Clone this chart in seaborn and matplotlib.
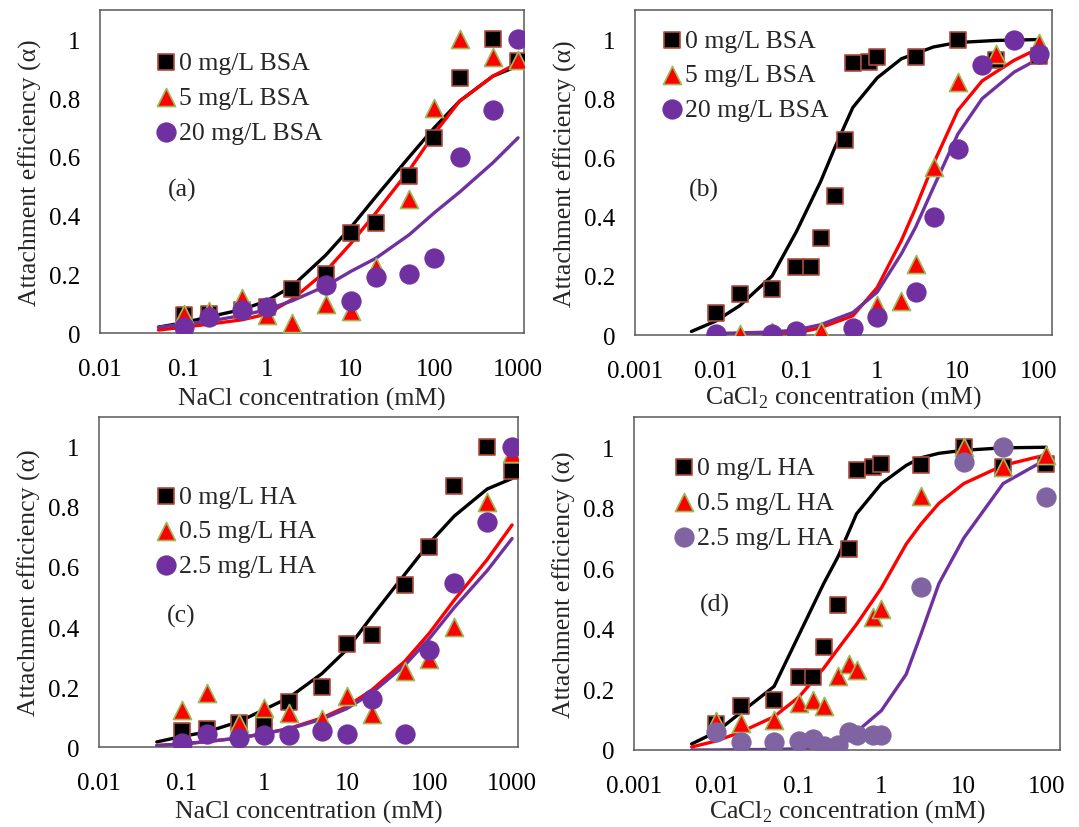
import numpy as np
import pandas as pd
import matplotlib
matplotlib.use("Agg")
import matplotlib.pyplot as plt
import seaborn as sns

# --- data ---
# panels (a) and (c): NaCl (mM)
nacl_x = [0.1, 0.2, 0.5, 1, 2, 5, 10, 20, 50, 100, 200, 500, 1000]
a_bsa0 = [0.06, 0.065, 0.08, 0.09, 0.15, 0.20, 0.34, 0.375, 0.535, 0.665, 0.87, 1.0, 0.925]
a_bsa5 = [0.065, 0.075, 0.12, 0.06, 0.035, 0.10, 0.075, 0.225, 0.455, 0.765, 1.0, 0.94, 0.93]
a_bsa20_x = [0.1, 0.2, 0.5, 1, 5, 10, 20, 50, 100, 200, 500, 1000]
a_bsa20 = [0.02, 0.055, 0.08, 0.09, 0.165, 0.11, 0.19, 0.20, 0.255, 0.60, 0.76, 1.0]

fit_nacl_x = [0.05, 0.1, 0.2, 0.5, 1, 2, 5, 10, 20, 50, 100, 200, 500, 1000]
a_fit0 = [0.02, 0.035, 0.055, 0.08, 0.11, 0.16, 0.265, 0.36, 0.465, 0.60, 0.70, 0.79, 0.875, 0.91]
a_fit5 = [0.01, 0.02, 0.03, 0.045, 0.065, 0.115, 0.21, 0.305, 0.41, 0.555, 0.68, 0.79, 0.875, 0.92]
a_fit20 = [0.02, 0.03, 0.04, 0.06, 0.08, 0.11, 0.16, 0.21, 0.255, 0.335, 0.41, 0.48, 0.58, 0.665]

c_ha0 = [0.055, 0.06, 0.08, 0.08, 0.15, 0.20, 0.345, 0.375, 0.54, 0.665, 0.87, 1.0, 0.92]
c_ha05 = [0.125, 0.18, 0.08, 0.13, 0.115, 0.095, 0.17, 0.11, 0.255, 0.295, 0.40, 0.815, 0.98]
c_ha25 = [0.015, 0.045, 0.03, 0.04, 0.04, 0.055, 0.045, 0.16, 0.045, 0.325, 0.545, 0.75, 1.0]
c_fit0 = [0.017, 0.035, 0.05, 0.085, 0.125, 0.165, 0.245, 0.325, 0.435, 0.575, 0.68, 0.77, 0.86, 0.895]
c_fit05 = [0.005, 0.01, 0.018, 0.03, 0.045, 0.062, 0.097, 0.135, 0.19, 0.285, 0.38, 0.49, 0.625, 0.74]
c_fit25 = [0.005, 0.01, 0.018, 0.03, 0.045, 0.06, 0.093, 0.128, 0.18, 0.272, 0.362, 0.465, 0.588, 0.695]

# panels (b) and (d): CaCl2 (mM)
cacl_x = [0.01, 0.02, 0.05, 0.1, 0.15, 0.2, 0.3, 0.4, 0.5, 0.8, 1, 3, 10, 30, 100]
b_bsa0 = [0.075, 0.14, 0.155, 0.23, 0.23, 0.33, 0.47, 0.66, 0.92, 0.925, 0.94, 0.94, 1.0, 0.93, 0.945]
b_bsa5_x = [0.01, 0.02, 0.05, 0.1, 0.2, 0.5, 1, 2, 3, 5, 10, 30, 100]
b_bsa5 = [0.0, 0.005, 0.01, 0.005, 0.015, 0.0, 0.10, 0.115, 0.24, 0.57, 0.855, 0.95, 0.99]
b_bsa20_x = [0.01, 0.05, 0.1, 0.5, 1, 3, 5, 10, 20, 50, 100]
b_bsa20 = [0.005, 0.005, 0.015, 0.025, 0.06, 0.145, 0.40, 0.63, 0.915, 1.0, 0.95]

b_fit0_x = [0.005, 0.01, 0.02, 0.05, 0.1, 0.2, 0.3, 0.5, 1, 2, 5, 10, 30, 100]
b_fit0 = [0.012, 0.047, 0.10, 0.20, 0.35, 0.52, 0.635, 0.77, 0.87, 0.935, 0.975, 0.99, 0.997, 1.0]
b_fit_x = [0.01, 0.05, 0.1, 0.2, 0.5, 1, 2, 3, 5, 10, 20, 50, 100]
b_fit5 = [0.0, 0.002, 0.006, 0.025, 0.065, 0.16, 0.32, 0.43, 0.58, 0.76, 0.86, 0.93, 0.97]
b_fit20 = [0.005, 0.01, 0.017, 0.035, 0.076, 0.145, 0.275, 0.365, 0.50, 0.68, 0.80, 0.89, 0.935]

d_ha0 = [0.085, 0.145, 0.165, 0.24, 0.24, 0.34, 0.48, 0.665, 0.925, 0.935, 0.945, 0.94, 1.0, 0.935, 0.945]
d_ha05 = [0.095, 0.09, 0.10, 0.155, 0.165, 0.145, 0.245, 0.285, 0.265, 0.44, 0.465, 0.84, 1.0, 0.935, 0.975]
d_ha25 = [0.06, 0.025, 0.025, 0.03, 0.035, 0.012, 0.018, 0.06, 0.05, 0.05, 0.05, 0.54, 0.95, 1.0, 0.835]
d_fit_x = [0.005, 0.01, 0.02, 0.05, 0.1, 0.2, 0.3, 0.5, 1, 2, 3, 5, 10, 30, 100]
d_fit0 = [0.02, 0.06, 0.125, 0.21, 0.38, 0.55, 0.64, 0.78, 0.88, 0.94, 0.965, 0.98, 0.99, 0.998, 1.0]
d_fit05 = [0.01, 0.03, 0.06, 0.11, 0.175, 0.27, 0.335, 0.415, 0.535, 0.68, 0.745, 0.815, 0.88, 0.94, 0.975]
d_fit25 = [0.0, 0.0, 0.001, 0.002, 0.004, 0.01, 0.02, 0.06, 0.13, 0.25, 0.38, 0.55, 0.70, 0.88, 0.96]

bsa_labels = ["0 mg/L BSA", "5 mg/L BSA", "20 mg/L BSA"]
ha_labels = ["0 mg/L HA", "0.5 mg/L HA", "2.5 mg/L HA"]
nacl_ticks = [0.01, 0.1, 1, 10, 100, 1000]
nacl_ticklabels = ["0.01", "0.1", "1", "10", "100", "1000"]
cacl_ticks = [0.001, 0.01, 0.1, 1, 10, 100]
cacl_ticklabels = ["0.001", "0.01", "0.1", "1", "10", "100"]
y_ticks = [0, 0.2, 0.4, 0.6, 0.8, 1]
y_ticklabels = ["0", "0.2", "0.4", "0.6", "0.8", "1"]

# --- style ---
sns.set_style("white")
plt.rcParams["font.family"] = ["Liberation Serif", "DejaVu Serif"]
plt.rcParams["mathtext.fontset"] = "custom"
plt.rcParams["mathtext.rm"] = "Liberation Serif"

FRAME = "#595959"
BLACK, RED, PURPLE = "#000000", "#ff0000", "#7030a0"
SQ_EDGE, TRI_EDGE = "#b04a3c", "#9bbb59"

fig = plt.figure(figsize=(10.79, 8.28), dpi=100)
pos = {
    "a": [0.0927, 0.5966, 0.3930, 0.3900],
    "b": [0.5885, 0.5942, 0.3865, 0.3925],
    "c": [0.0918, 0.0966, 0.3883, 0.3986],
    "d": [0.5876, 0.0930, 0.3948, 0.4022],
}


def draw_panel(ax, fits, pts, labels, circ_color, xlim, ticks, ticklabels,
               xlabel, xlabelpad, tag, tag_xy, leg_xy):
    for fx, fy, col in fits:
        sns.lineplot(x=fx, y=fy, color=col, lw=2.4, ax=ax, estimator=None,
                     sort=False, zorder=2)
    (x0, y0), (x1, y1), (x2, y2) = pts
    sns.scatterplot(x=x0, y=y0, marker="s", s=135, color=BLACK,
                    edgecolor=SQ_EDGE, linewidth=1.2, ax=ax, label=labels[0], zorder=3)
    sns.scatterplot(x=x1, y=y1, marker="^", s=170, color=RED,
                    edgecolor=TRI_EDGE, linewidth=1.2, ax=ax, label=labels[1], zorder=4)
    sns.scatterplot(x=x2, y=y2, marker="o", s=190, color=circ_color,
                    edgecolor=circ_color, linewidth=0.8, ax=ax, label=labels[2], zorder=5)
    ax.set_xscale("log")
    ax.set_xlim(*xlim)
    ax.set_ylim(0, 1.1)
    ax.set_xticks(ticks)
    ax.set_xticklabels(ticklabels)
    ax.minorticks_off()
    ax.set_yticks(y_ticks)
    ax.set_yticklabels(y_ticklabels)
    ax.tick_params(axis="both", direction="in", length=5.5, width=1, color=FRAME,
                   labelsize=18, labelcolor="black")
    ax.tick_params(axis="x", pad=18)
    ax.tick_params(axis="y", pad=14)
    for sp in ax.spines.values():
        sp.set_visible(True)
        sp.set_color(FRAME)
        sp.set_linewidth(1.1)
    ax.set_xlabel(xlabel, fontsize=18.5, labelpad=xlabelpad)
    ax.set_ylabel("Attachment efficiency (\u03b1)", fontsize=18.5, labelpad=5)
    ax.text(tag_xy[0], tag_xy[1], tag, transform=ax.transAxes, fontsize=18.5,
            ha="center", va="center")
    ax.legend(loc="upper left", bbox_to_anchor=leg_xy, frameon=False, fontsize=18.5,
              handlelength=0.8, handletextpad=0.1, borderpad=0, borderaxespad=0,
              labelspacing=0.46, scatterpoints=1)


cacl_label = r"CaCl$_\mathrm{2}$ concentration (mM)"

ax_a = fig.add_axes(pos["a"])
draw_panel(ax_a,
           [(fit_nacl_x, a_fit0, BLACK), (fit_nacl_x, a_fit5, RED), (fit_nacl_x, a_fit20, PURPLE)],
           [(nacl_x, a_bsa0), (nacl_x, a_bsa5), (a_bsa20_x, a_bsa20)],
           bsa_labels, PURPLE, (0.01, 1180), nacl_ticks, nacl_ticklabels,
           "NaCl concentration (mM)", 5, "(a)", (0.193, 0.446), (0.131, 0.873))

ax_b = fig.add_axes(pos["b"])
draw_panel(ax_b,
           [(b_fit0_x, b_fit0, BLACK), (b_fit_x, b_fit5, RED), (b_fit_x, b_fit20, PURPLE)],
           [(cacl_x, b_bsa0), (b_bsa5_x, b_bsa5), (b_bsa20_x, b_bsa20)],
           bsa_labels, PURPLE, (0.001, 147), cacl_ticks, cacl_ticklabels,
           cacl_label, 1, "(b)", (0.164, 0.449), (0.065, 0.943))

ax_c = fig.add_axes(pos["c"])
draw_panel(ax_c,
           [(fit_nacl_x, c_fit0, BLACK), (fit_nacl_x, c_fit05, RED), (fit_nacl_x, c_fit25, PURPLE)],
           [(nacl_x, c_ha0), (nacl_x, c_ha05), (nacl_x, c_ha25)],
           ha_labels, PURPLE, (0.01, 1180), nacl_ticks, nacl_ticklabels,
           "NaCl concentration (mM)", 4, "(c)", (0.197, 0.398), (0.135, 0.795))

ax_d = fig.add_axes(pos["d"])
draw_panel(ax_d,
           [(d_fit_x, d_fit0, BLACK), (d_fit_x, d_fit05, RED), (d_fit_x, d_fit25, PURPLE)],
           [(cacl_x, d_ha0), (cacl_x, d_ha05), (cacl_x, d_ha25)],
           ha_labels, "#8064a2", (0.001, 147), cacl_ticks, cacl_ticklabels,
           cacl_label, 0, "(d)", (0.19, 0.438), (0.093, 0.883))

fig.savefig("out.png", dpi=100)
